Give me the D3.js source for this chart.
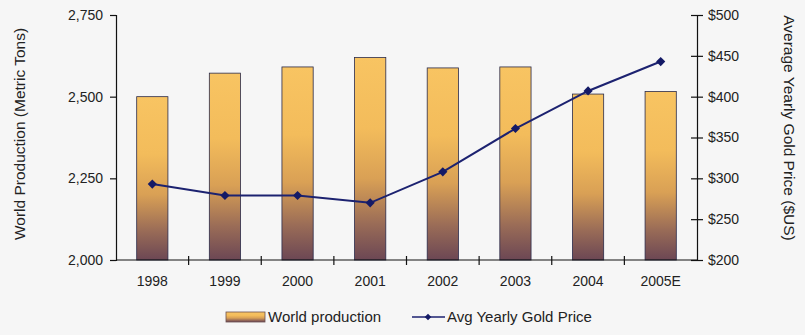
<!DOCTYPE html>
<html>
<head>
<meta charset="utf-8">
<script src="https://cdn.jsdelivr.net/npm/d3@7"></script>
<style>
  body { margin: 0; background: #f6f6f6; }
  svg { display: block; font-family: Arial, "Liberation Sans", sans-serif; }
</style>
</head>
<body>
<svg id="chart" width="805" height="335"></svg>
<script>
// data
var years = ["1998", "1999", "2000", "2001", "2002", "2003", "2004", "2005E"];
var production = [2500, 2572, 2591, 2620, 2588, 2591, 2508, 2516];
var goldPrice = [293, 279, 279, 270, 308, 361, 407, 443];
var prodTicks = [2000, 2250, 2500, 2750];
var priceTicks = [200, 250, 300, 350, 400, 450, 500];

// plot edges (window.top is reserved, so no "top" here)
var plotL = 116, plotR = 697, plotT = 15, plotB = 260;

var svg = d3.select("#chart");

var defs = svg.append("defs");
var grad = defs.append("linearGradient")
    .attr("id", "barGrad")
    .attr("x1", 0).attr("y1", 0).attr("x2", 0).attr("y2", 1);
grad.append("stop").attr("offset", "0%").attr("stop-color", "#f8c462");
grad.append("stop").attr("offset", "35%").attr("stop-color", "#f3bc5b");
grad.append("stop").attr("offset", "60%").attr("stop-color", "#d9a055");
grad.append("stop").attr("offset", "82%").attr("stop-color", "#9a6c57");
grad.append("stop").attr("offset", "100%").attr("stop-color", "#6c4754");

var x = d3.scaleBand()
    .domain(years)
    .range([plotL, plotR]);

var y = d3.scaleLinear()
    .domain([2000, 2750])
    .range([plotB, plotT]);

var y2 = d3.scaleLinear()
    .domain([200, 500])
    .range([plotB, plotT]);

var barW = x.bandwidth() * 0.43;

// bars
svg.append("g")
  .selectAll("rect")
  .data(production)
  .enter().append("rect")
    .attr("x", (d, i) => x(years[i]) + x.bandwidth() / 2 - barW / 2)
    .attr("y", d => y(d))
    .attr("width", barW)
    .attr("height", d => y(2000) - y(d))
    .attr("fill", "url(#barGrad)")
    .attr("stroke", "#2b2b4a")
    .attr("stroke-width", 0.8);

// left axis
var yAxis = d3.axisLeft(y)
    .tickValues(prodTicks)
    .tickFormat(d3.format(","))
    .tickSize(6)
    .tickPadding(7);

var gy = svg.append("g")
    .attr("transform", `translate(${plotL},0)`)
    .call(yAxis);

// right axis, ticks cross the line
var y2Axis = d3.axisRight(y2)
    .tickValues(priceTicks)
    .tickFormat(d => "$" + d)
    .tickSize(6)
    .tickPadding(5);

var gy2 = svg.append("g")
    .attr("transform", `translate(${plotR},0)`)
    .call(y2Axis);
gy2.selectAll(".tick line").attr("x1", -6);

// x axis, ticks at category boundaries crossing the line
var xAxis = d3.axisBottom(x).tickSize(0).tickPadding(16);
var gx = svg.append("g")
    .attr("transform", `translate(0,${plotB})`)
    .call(xAxis);

gx.selectAll(".sep")
  .data(years.slice(1))
  .enter().append("line")
    .attr("class", "sep")
    .attr("x1", d => x(d)).attr("x2", d => x(d))
    .attr("y1", -4).attr("y2", 5)
    .attr("stroke", "#111")
    .attr("stroke-width", 1.2);

[gy, gy2, gx].forEach(g => {
  g.select(".domain").attr("stroke", "#111").attr("stroke-width", 1.2);
  g.selectAll(".tick line").attr("stroke", "#111").attr("stroke-width", 1.2);
  g.selectAll("text").attr("font-size", 14).attr("fill", "#222")
    .attr("font-family", "Arial, 'Liberation Sans', sans-serif");
});
gx.select(".domain").attr("d", `M${plotL},0H${plotR}`);

// price line
var line = d3.line()
    .x((d, i) => x(years[i]) + x.bandwidth() / 2)
    .y(d => y2(d));

svg.append("path")
    .datum(goldPrice)
    .attr("fill", "none")
    .attr("stroke", "#1c2270")
    .attr("stroke-width", 2)
    .attr("d", line);

// markers: squares turned 45deg
var marker = d3.symbol().type(d3.symbolSquare).size(42);
svg.append("g")
  .selectAll("path")
  .data(goldPrice)
  .enter().append("path")
    .attr("transform", (d, i) => `translate(${x(years[i]) + x.bandwidth() / 2},${y2(d)}) rotate(45)`)
    .attr("d", marker)
    .attr("fill", "#141a66");

// axis titles
svg.append("text")
    .attr("transform", "translate(25,134) rotate(-90)")
    .attr("text-anchor", "middle")
    .attr("font-size", 15.5)
    .attr("fill", "#222")
    .text("World Production (Metric Tons)");

svg.append("text")
    .attr("transform", "translate(784,128) rotate(90)")
    .attr("text-anchor", "middle")
    .attr("font-size", 15.5)
    .attr("fill", "#222")
    .text("Average Yearly Gold Price ($US)");

// legend
var lg = svg.append("g").attr("transform", "translate(0,317)");
lg.append("rect")
    .attr("x", 226).attr("y", -5)
    .attr("width", 39).attr("height", 10)
    .attr("fill", "url(#barGrad)")
    .attr("stroke", "#6b5050")
    .attr("stroke-width", 0.8);
lg.append("text")
    .attr("x", 268).attr("y", 5)
    .attr("font-size", 15)
    .attr("fill", "#222")
    .text("World production");
lg.append("line")
    .attr("x1", 412).attr("x2", 445)
    .attr("y1", 0).attr("y2", 0)
    .attr("stroke", "#1c2270")
    .attr("stroke-width", 1.5);
lg.append("path")
    .attr("transform", "translate(428,0) rotate(45)")
    .attr("d", d3.symbol().type(d3.symbolSquare).size(22))
    .attr("fill", "#141a66");
lg.append("text")
    .attr("x", 447).attr("y", 5)
    .attr("font-size", 15)
    .attr("fill", "#222")
    .text("Avg Yearly Gold Price");
</script>
</body>
</html>
